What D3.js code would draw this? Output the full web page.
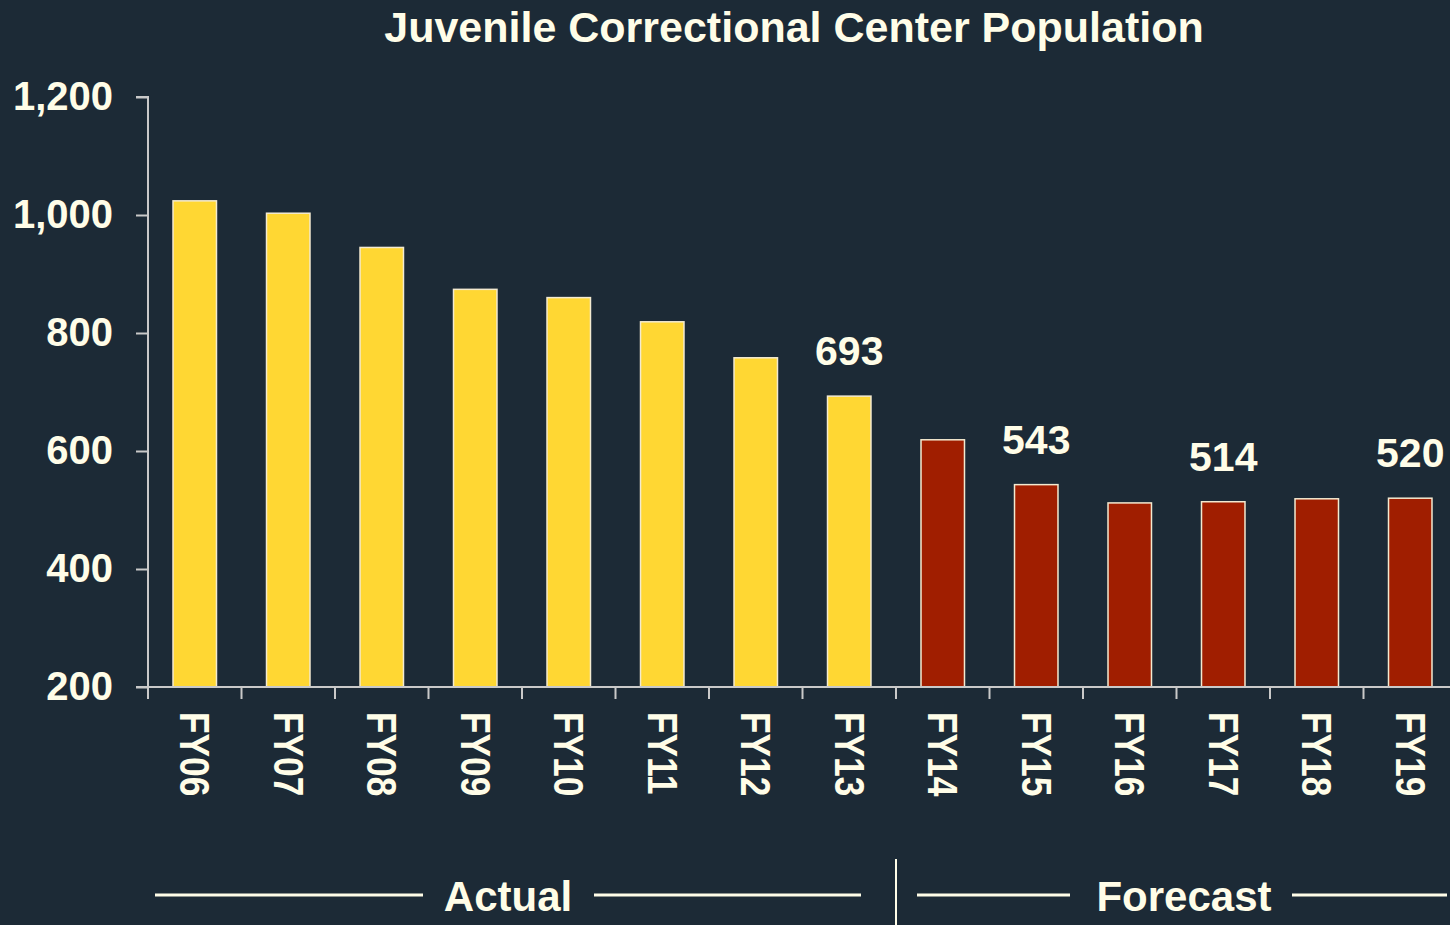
<!DOCTYPE html>
<html>
<head>
<meta charset="utf-8">
<script src="https://cdn.jsdelivr.net/npm/d3@7"></script>
<style>
  html, body { margin: 0; padding: 0; background: #1c2a36; }
  svg { display: block; }
  text { font-family: "Liberation Sans", Arial, sans-serif; font-weight: bold; fill: #fffde8; }
</style>
</head>
<body>
<script>
// chart data
var categories = ["FY06", "FY07", "FY08", "FY09", "FY10", "FY11", "FY12",
                  "FY13", "FY14", "FY15", "FY16", "FY17", "FY18", "FY19"];
var population = [1024, 1003, 945, 874, 860, 819, 758, 693, 619, 543, 512, 514, 519, 520];
var forecast_start = "FY14";
var labelled = ["FY13", "FY15", "FY17", "FY19"];
var y_ticks = [200, 400, 600, 800, 1000, 1200];
var title = "Juvenile Correctional Center Population";

var width = 1450, height = 925;
var colors = {actual: "#ffd733", forecast: "#a01e00", outline: "#f3ead0",
              axis: "#c9c9c9", text: "#fffde8"};

var svg = d3.select("body").append("svg")
    .attr("width", width)
    .attr("height", height);

svg.append("rect")
    .attr("width", width)
    .attr("height", height)
    .attr("fill", "#1c2a36");

// one slot per fiscal year, the last slot runs off the right edge
var x = d3.scaleBand()
    .domain(categories)
    .range([148, 1457])
    .padding(0);

var y = d3.scaleLinear()
    .domain([200, 1200])
    .range([687, 97]);

var bar_w = x.bandwidth() * 0.465;
var first_forecast = categories.indexOf(forecast_start);

// title
svg.append("text")
    .attr("x", 794)
    .attr("y", 42)
    .attr("text-anchor", "middle")
    .style("font-size", "43px")
    .text(title);

// bars
svg.selectAll("rect.bar")
    .data(population)
    .enter()
    .append("rect")
    .attr("class", "bar")
    .attr("x", function(d, i) { return x(categories[i]) + (x.bandwidth() - bar_w) / 2; })
    .attr("y", function(d) { return y(d); })
    .attr("width", bar_w)
    .attr("height", function(d) { return y(200) - y(d); })
    .attr("fill", function(d, i) {
        return i < first_forecast ? colors.actual : colors.forecast;
    })
    .attr("stroke", colors.outline)
    .attr("stroke-width", 1.5);

// value labels on a few bars
svg.selectAll("text.value")
    .data(labelled)
    .enter()
    .append("text")
    .attr("class", "value")
    .attr("x", function(d) { return x(d) + x.bandwidth() / 2; })
    .attr("y", function(d) { return y(population[categories.indexOf(d)]) - 31; })
    .attr("text-anchor", "middle")
    .style("font-size", "41px")
    .text(function(d) { return population[categories.indexOf(d)]; });

// y axis
var y_axis = svg.append("g")
    .attr("transform", "translate(148,0)")
    .call(d3.axisLeft(y)
        .tickValues(y_ticks)
        .tickFormat(d3.format(","))
        .tickSize(12)
        .tickPadding(23));

y_axis.select(".domain")
    .attr("stroke", colors.axis)
    .attr("stroke-width", 2)
    .attr("d", "M-12," + y(1200) + "H0V" + y(200));
y_axis.selectAll(".tick line")
    .attr("stroke", colors.axis)
    .attr("stroke-width", 2);
y_axis.selectAll(".tick text")
    .attr("fill", colors.text)
    .style("font-family", "'Liberation Sans', Arial, sans-serif")
    .style("font-weight", "bold")
    .style("font-size", "40px");

// x axis: baseline plus ticks between the slots
var x_axis = svg.append("g");

x_axis.append("line")
    .attr("x1", 136)
    .attr("x2", width)
    .attr("y1", y(200))
    .attr("y2", y(200))
    .attr("stroke", colors.axis)
    .attr("stroke-width", 2);

x_axis.selectAll("line.tick")
    .data(categories)
    .enter()
    .append("line")
    .attr("class", "tick")
    .attr("x1", function(d) { return x(d); })
    .attr("x2", function(d) { return x(d); })
    .attr("y1", y(200))
    .attr("y2", y(200) + 12)
    .attr("stroke", colors.axis)
    .attr("stroke-width", 2);

// rotated category labels, squeezed like the original
x_axis.selectAll("text.cat")
    .data(categories)
    .enter()
    .append("text")
    .attr("class", "cat")
    .attr("transform", function(d) {
        return "translate(" + (x(d) + x.bandwidth() / 2) + "," + 712 + ") rotate(90)";
    })
    .attr("dy", "0.35em")
    .attr("text-anchor", "start")
    .style("font-size", "42px")
    .text(function(d) { return d; })
    .each(function() {
        var len = this.getComputedTextLength();
        d3.select(this)
            .attr("textLength", len * 0.84)
            .attr("lengthAdjust", "spacingAndGlyphs");
    });

// actual / forecast brackets at the bottom
var split = x(forecast_start);
var groups = [
    {name: "Actual", left: x(categories[0]) + 7, right: split - 35, mid: 508,
     gap_l: 423, gap_r: 594},
    {name: "Forecast", left: split + 21, right: width - 3, mid: 1184,
     gap_l: 1070, gap_r: 1292}
];

var brackets = svg.append("g");

groups.forEach(function(g) {
    brackets.append("line")
        .attr("x1", g.left).attr("x2", g.gap_l)
        .attr("y1", 895).attr("y2", 895)
        .attr("stroke", colors.text)
        .attr("stroke-width", 3);
    brackets.append("line")
        .attr("x1", g.gap_r).attr("x2", g.right)
        .attr("y1", 895).attr("y2", 895)
        .attr("stroke", colors.text)
        .attr("stroke-width", 3);
    brackets.append("text")
        .attr("x", g.mid)
        .attr("y", 911)
        .attr("text-anchor", "middle")
        .style("font-size", "42px")
        .text(g.name);
});

brackets.append("line")
    .attr("x1", split).attr("x2", split)
    .attr("y1", 859).attr("y2", height)
    .attr("stroke", colors.text)
    .attr("stroke-width", 2);
</script>
</body>
</html>
